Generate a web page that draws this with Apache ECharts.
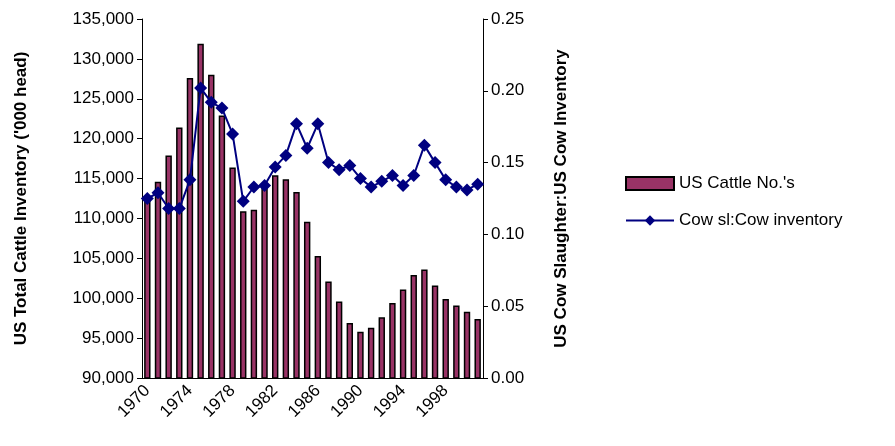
<!DOCTYPE html>
<html>
<head>
<meta charset="utf-8">
<script src="https://cdn.jsdelivr.net/npm/echarts@6/dist/echarts.min.js"></script>
<style>html,body{margin:0;padding:0;background:#fff}#chart{width:895px;height:446px}</style>
</head>
<body>
<div id="chart"></div>
<script>
var years = [];
for (var y = 1970; y <= 2001; y++) years.push(String(y));

// US cattle inventory, '000 head
var cattle = [112.7, 114.6, 117.9, 121.4, 127.6, 131.9, 128.0, 122.9, 116.4, 110.9,
  111.1, 114.2, 115.4, 114.9, 113.3, 109.6, 105.3, 102.1, 99.6, 96.9,
  95.8, 96.3, 97.6, 99.4, 101.1, 102.9, 103.6, 101.6, 99.9, 99.1, 98.3, 97.4];
cattle = cattle.map(function (v) { return Math.round(v * 1000); });

// cow slaughter : cow inventory ratio
var ratio = [0.125, 0.129, 0.118, 0.118, 0.138, 0.202, 0.192, 0.188, 0.170, 0.123,
  0.133, 0.134, 0.147, 0.155, 0.177, 0.160, 0.177, 0.150, 0.145, 0.148,
  0.139, 0.133, 0.137, 0.141, 0.134, 0.141, 0.162, 0.150, 0.138, 0.133, 0.131, 0.135];

var font = 'Liberation Sans';
var chart = echarts.init(document.getElementById('chart'));
chart.setOption({
  animation: false,
  textStyle: { fontFamily: font },
  grid: { left: 142, right: 412, top: 19, bottom: 68 },
  legend: {
    orient: 'vertical',
    left: 620,
    top: 170,
    itemGap: 20,
    itemWidth: 48,
    itemHeight: 13,
    textStyle: { fontSize: 17, color: '#000', fontFamily: font },
    data: [{ name: "US Cattle No.'s", icon: 'rect' }, 'Cow sl:Cow inventory']
  },
  xAxis: {
    type: 'category',
    data: years,
    axisLine: { lineStyle: { color: '#000' } },
    axisTick: { interval: 0, lineStyle: { color: '#000' } },
    axisLabel: { interval: 3, rotate: 45, color: '#000', fontSize: 17, margin: 10 }
  },
  yAxis: [{
    type: 'value',
    min: 90000, max: 135000, interval: 5000,
    name: "US Total Cattle Inventory ('000 head)",
    nameLocation: 'middle', nameGap: 112,
    nameTextStyle: { fontSize: 17, fontWeight: 'bold', color: '#000' },
    axisLine: { show: true, lineStyle: { color: '#000' } },
    axisTick: { show: true, lineStyle: { color: '#000' } },
    splitLine: { show: false },
    axisLabel: { color: '#000', fontSize: 17, formatter: function (v) { return v.toLocaleString('en-US'); } }
  }, {
    type: 'value',
    min: 0, max: 0.25, interval: 0.05,
    name: 'US Cow Slaughter:US Cow Inventory',
    nameLocation: 'middle', nameGap: 70, nameRotate: 90,
    nameTextStyle: { fontSize: 17, fontWeight: 'bold', color: '#000' },
    axisLine: { show: true, lineStyle: { color: '#000' } },
    axisTick: { show: true, lineStyle: { color: '#000' } },
    splitLine: { show: false },
    axisLabel: { color: '#000', fontSize: 17, formatter: function (v) { return v.toFixed(2); } }
  }],
  series: [{
    name: "US Cattle No.'s",
    type: 'bar',
    data: cattle,
    barWidth: '60%',
    itemStyle: { color: '#993366', borderColor: '#000', borderWidth: 1.5 }
  }, {
    name: 'Cow sl:Cow inventory',
    type: 'line',
    yAxisIndex: 1,
    data: ratio,
    symbol: 'diamond',
    symbolSize: 13,
    showAllSymbol: true,
    lineStyle: { color: '#000080', width: 2 },
    itemStyle: { color: '#000080' }
  }]
});
</script>
</body>
</html>
